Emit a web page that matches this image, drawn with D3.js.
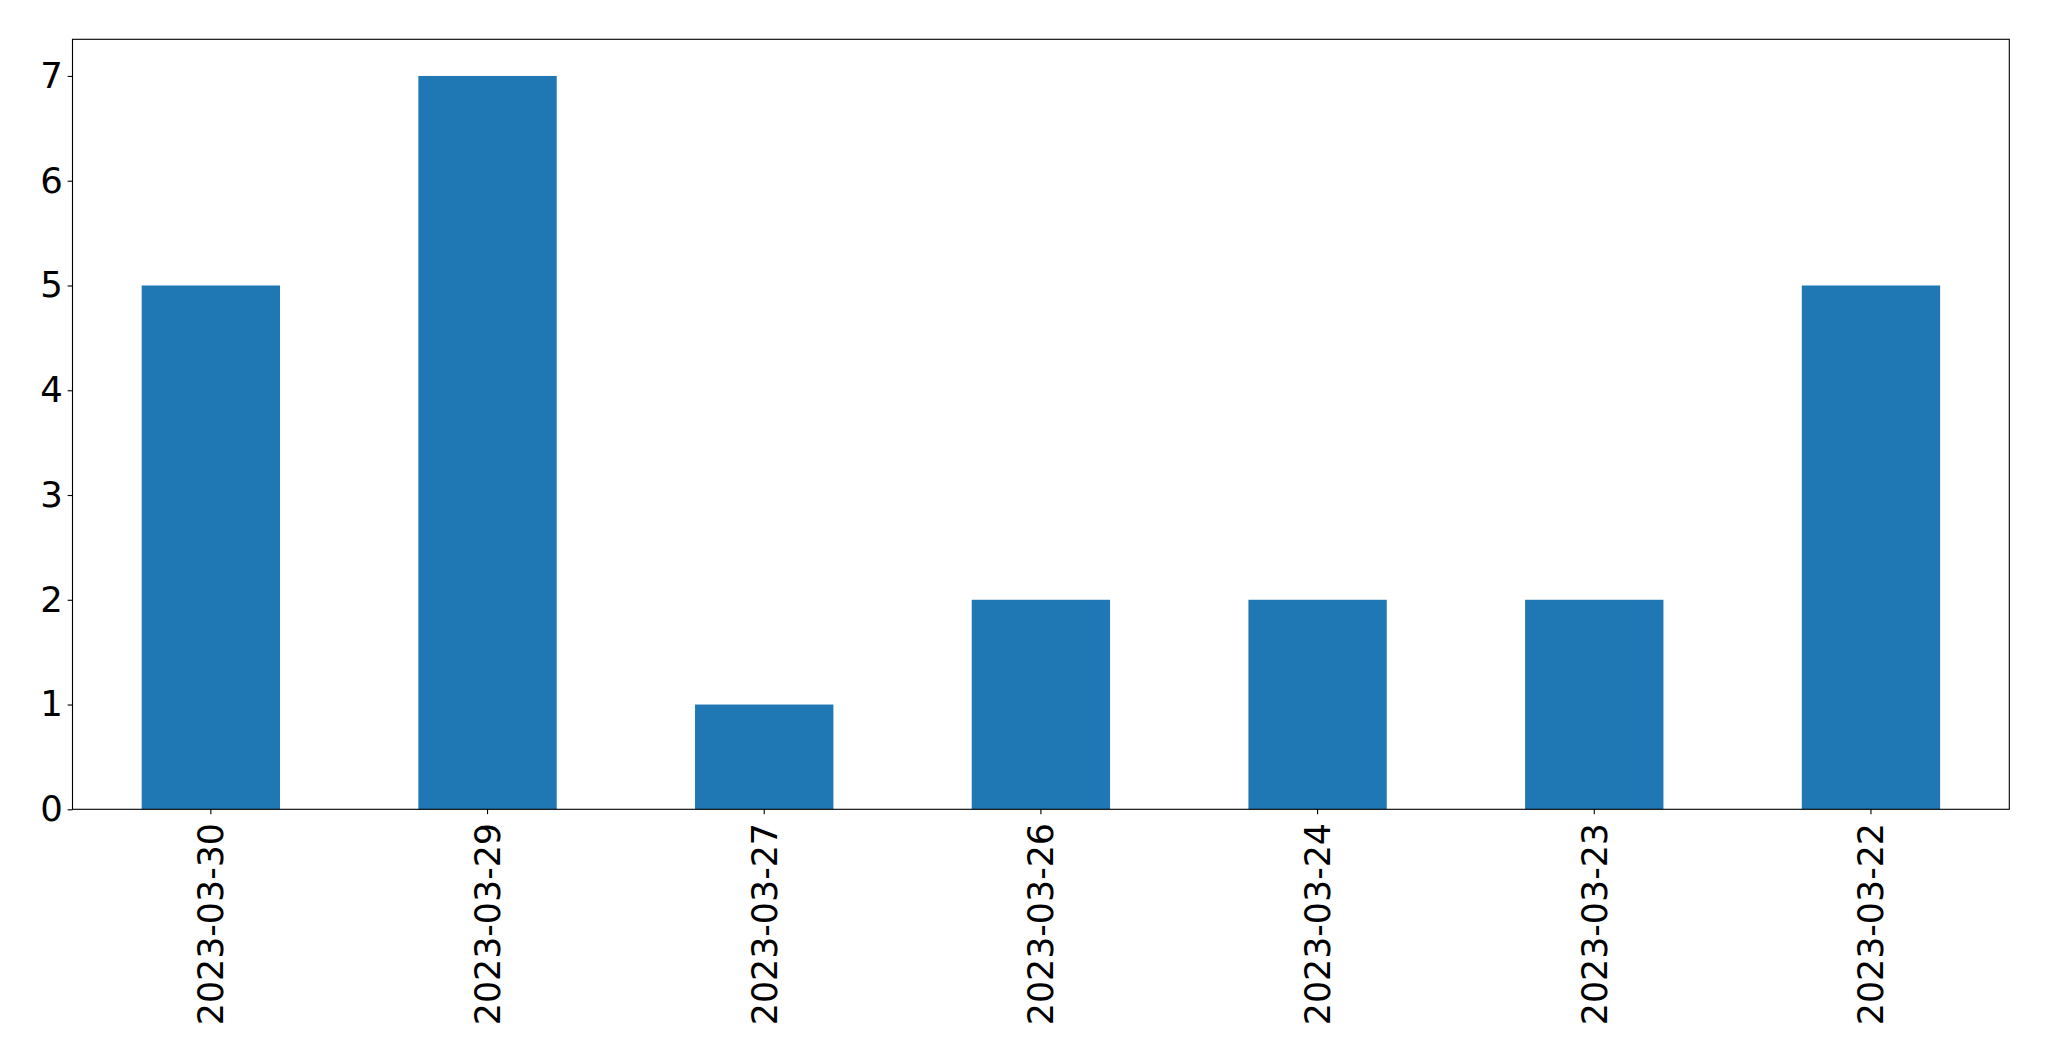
<!DOCTYPE html>
<html>
<head>
<meta charset="utf-8">
<script src="https://cdn.jsdelivr.net/npm/d3@7"></script>
<style>
  html, body { margin: 0; padding: 0; background: #fff; }
  svg { display: block; }
  text { font-family: "DejaVu Sans", sans-serif; fill: #000; }
</style>
</head>
<body>
<svg id="chart" width="2049" height="1061"></svg>
<script>
const categories = ["2023-03-30", "2023-03-29", "2023-03-27", "2023-03-26", "2023-03-24", "2023-03-23", "2023-03-22"];
const values = [5, 7, 1, 2, 2, 2, 5];
const yTicks = [0, 1, 2, 3, 4, 5, 6, 7];

const plotLeft = 72.5, plotRight = 2009.3, plotTop = 39.3, plotBottom = 809.3;
const yFontSize = 35.5, xFontSize = 34.8;
const tickLen = 4.86, pad = 4.86;

const svg = d3.select("#chart");

const x = d3.scaleBand().domain(categories).range([plotLeft, plotRight]).paddingInner(0.5).paddingOuter(0.25);
const yMax = d3.max(values) * 1.05;
const y = d3.scaleLinear().domain([0, yMax]).range([plotBottom, plotTop]);

// bars
svg.append("g").selectAll("rect").data(values).join("rect")
  .attr("x", (d, i) => x(categories[i]))
  .attr("width", x.bandwidth())
  .attr("y", d => y(d))
  .attr("height", d => y(0) - y(d))
  .attr("fill", "#1f77b4");

// y axis
const yAxis = d3.axisLeft(y).tickValues(yTicks).tickSize(tickLen).tickPadding(pad).tickFormat(d3.format("d"));
const gy = svg.append("g").attr("transform", `translate(${plotLeft},0)`).call(yAxis);
gy.select(".domain").remove();
gy.selectAll("line").attr("stroke", "#000").attr("stroke-width", 1.11);
gy.selectAll("text").style("font-size", yFontSize + "px").attr("font-family", "DejaVu Sans").attr("fill", "#000");

// x axis
const xAxis = d3.axisBottom(x).tickSize(tickLen).tickPadding(pad);
const gx = svg.append("g").attr("transform", `translate(0,${plotBottom})`).call(xAxis);
gx.select(".domain").remove();
gx.selectAll("line").attr("stroke", "#000").attr("stroke-width", 1.11);
gx.selectAll("text")
  .style("font-size", xFontSize + "px")
  .attr("font-family", "DejaVu Sans")
  .attr("fill", "#000")
  .attr("text-anchor", "end")
  .attr("transform", `translate(0,${tickLen + pad + 4}) rotate(-90)`)
  .attr("x", 0)
  .attr("y", 0)
  .attr("dy", "0.36em");

// frame
svg.append("rect")
  .attr("x", plotLeft).attr("y", plotTop)
  .attr("width", plotRight - plotLeft).attr("height", plotBottom - plotTop)
  .attr("fill", "none").attr("stroke", "#000").attr("stroke-width", 1.11);
</script>
</body>
</html>
